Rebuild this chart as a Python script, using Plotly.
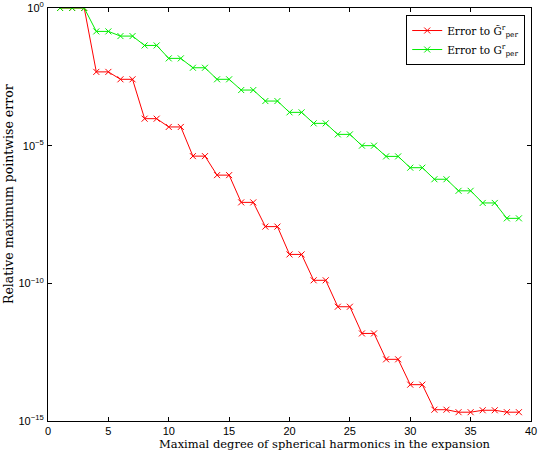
import plotly.graph_objects as go

degrees = list(range(1, 40))

# log10 of relative maximum pointwise error
red_log = [0, 0, 0, -2.32, -2.32, -2.59, -2.59, -4.02, -4.02, -4.32, -4.32,
           -5.38, -5.38, -6.07, -6.07, -7.06, -7.06, -7.94, -7.94, -8.95, -8.95,
           -9.89, -9.89, -10.85, -10.85, -11.82, -11.82, -12.76, -12.76,
           -13.68, -13.68, -14.59, -14.59, -14.68, -14.68, -14.61, -14.61,
           -14.68, -14.68]
green_log = [0, 0, 0, -0.85, -0.85, -1.02, -1.02, -1.36, -1.36, -1.83, -1.83,
             -2.17, -2.17, -2.59, -2.59, -2.98, -2.98, -3.38, -3.38, -3.79, -3.79,
             -4.19, -4.19, -4.59, -4.59, -5.00, -5.00, -5.39, -5.39, -5.80, -5.80,
             -6.22, -6.22, -6.64, -6.64, -7.08, -7.08, -7.64, -7.64]

red_vals = [10 ** v for v in red_log]
green_vals = [10 ** v for v in green_log]

ytick_vals = [1e-15, 1e-10, 1e-5, 1]
ytick_text = ["10<sup>\u221215</sup>", "10<sup>\u221210</sup>", "10<sup>\u22125</sup>", "10<sup>0</sup>"]

x_title = "Maximal degree of spherical harmonics in the expansion"
y_title = "Relative maximum pointwise error"

serif = "DejaVu Serif, Liberation Serif"

fig = go.Figure()
fig.add_trace(go.Scatter(
    x=degrees, y=red_vals, mode="lines+markers",
    name="Error to G\u0303<sup>r</sup><sub>per</sub>",
    line=dict(color="#ff0000", width=1),
    marker=dict(symbol="x-thin", size=6, line=dict(color="#ff0000", width=1)),
))
fig.add_trace(go.Scatter(
    x=degrees, y=green_vals, mode="lines+markers",
    name="Error to G<sup>r</sup><sub>per</sub>",
    line=dict(color="#00ee00", width=1),
    marker=dict(symbol="x-thin", size=6, line=dict(color="#00ee00", width=1)),
))

axis_common = dict(
    showline=True, linecolor="black", linewidth=1, mirror="ticks",
    ticks="inside", ticklen=4, tickcolor="black", showgrid=False, zeroline=False,
    automargin=False, ticklabeloverflow="allow",
    tickfont=dict(family="Liberation Sans, Arial", size=11, color="black"),
)

fig.update_layout(
    width=538, height=452,
    margin=dict(l=48, r=7, t=8, b=31),
    paper_bgcolor="white", plot_bgcolor="white",
    xaxis=dict(range=[0, 40], dtick=5, tick0=0, ticklabelstandoff=0, **axis_common),
    yaxis=dict(type="log", range=[-15, 0], tickvals=ytick_vals, ticktext=ytick_text,
               ticklabelstandoff=1, **axis_common),
    legend=dict(x=0.988, y=0.983, xanchor="right", yanchor="top",
                bgcolor="white", bordercolor="black", borderwidth=1,
                font=dict(family=serif, size=10.5, color="black"),
                tracegroupgap=0, itemwidth=30),
    showlegend=True,
    annotations=[
        dict(text=x_title, xref="paper", yref="paper", x=0.5735, y=-0.0751,
             xanchor="center", yanchor="bottom", showarrow=False, borderpad=0,
             font=dict(family=serif, size=11.5, color="black")),
        dict(text=y_title, xref="paper", yref="paper", x=-0.0828, y=0.5496,
             xanchor="center", yanchor="middle", showarrow=False, textangle=-90,
             font=dict(family=serif, size=12.5, color="black")),
    ],
)

fig.write_html("out.html")
